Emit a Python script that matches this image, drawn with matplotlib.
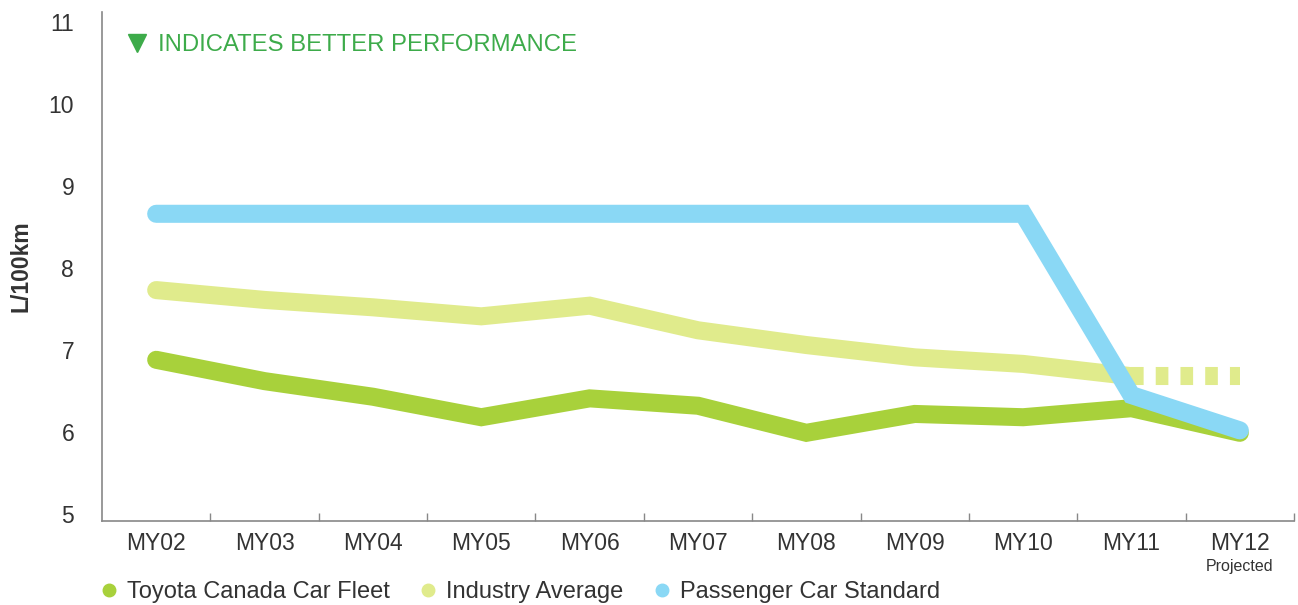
import numpy as np
import matplotlib.pyplot as plt
from matplotlib.lines import Line2D

plt.rcParams['font.family'] = ['Liberation Sans', 'DejaVu Sans']

years = ["MY02", "MY03", "MY04", "MY05", "MY06", "MY07", "MY08", "MY09", "MY10", "MY11", "MY12"]
toyota = [6.88, 6.62, 6.43, 6.18, 6.41, 6.32, 5.99, 6.22, 6.18, 6.29, 5.99]
industry = [7.73, 7.61, 7.52, 7.41, 7.54, 7.24, 7.06, 6.91, 6.83, 6.68]
industry_projected = [6.68, 6.68]
passenger = [8.66, 8.66, 8.66, 8.66, 8.66, 8.66, 8.66, 8.66, 8.66, 6.45, 6.02]

c_toyota = "#a8d13b"
c_industry = "#e0eb8c"
c_passenger = "#8ad8f5"
c_green = "#3dab4a"
c_text = "#333333"

x = np.arange(len(years))

fig = plt.figure(figsize=(12.98, 6.05), dpi=100)
ax = fig.add_axes([102/1298, 1 - 521/605, (1294 - 102)/1298, (521 - 12)/605])

lw = 13
ax.plot(x, toyota, color=c_toyota, lw=lw, solid_capstyle="round", solid_joinstyle="miter", zorder=3)
ax.plot(x[:len(industry)], industry, color=c_industry, lw=lw, solid_capstyle="round", solid_joinstyle="miter", zorder=2)
ax.plot(x[len(industry) - 1:], industry_projected, color=c_industry, lw=lw,
        linestyle=(0, (0.7, 0.67)), dash_capstyle="butt", zorder=2)
ax.plot(x, passenger, color=c_passenger, lw=lw, solid_capstyle="round", solid_joinstyle="miter", zorder=4)

ax.set_xlim(-0.5, 10.5)
ax.set_ylim(4.915, 11.12)

ax.set_xticks(x)
ax.set_xticklabels(years)
ax.set_xticks(np.arange(0.5, 10.6, 1), minor=True)
ax.tick_params(axis="x", which="major", length=0, pad=8, labelsize=16.5, labelcolor=c_text)
ax.tick_params(axis="x", which="minor", direction="in", length=6, width=1, color="#888888")
ax.set_yticks(range(5, 12))
ax.tick_params(axis="y", length=0, pad=20, labelsize=16.5, labelcolor=c_text)

for s in ["top", "right"]:
    ax.spines[s].set_visible(False)
for s in ["left", "bottom"]:
    ax.spines[s].set_color("#888888")
    ax.spines[s].set_linewidth(1.2)

ax.set_ylabel("L/100km", fontsize=16.5, fontweight="bold", color=c_text, labelpad=12)

ax.annotate("Projected", xy=(10, 0), xycoords=("data", "axes fraction"),
            xytext=(0, -27.5), textcoords="offset points", ha="center", va="top",
            fontsize=11.5, color=c_text)

ax.plot([0.029], [0.94], transform=ax.transAxes, marker="v", markersize=13,
        color=c_green, linestyle="None", clip_on=False)
ax.text(0.047, 0.935, "INDICATES BETTER PERFORMANCE", transform=ax.transAxes,
        color=c_green, fontsize=17.2, va="center", ha="left")

handles = [
    Line2D([], [], marker="o", linestyle="None", markersize=9, color=c_toyota),
    Line2D([], [], marker="o", linestyle="None", markersize=9, color=c_industry),
    Line2D([], [], marker="o", linestyle="None", markersize=9, color=c_passenger),
]
labels = ["Toyota Canada Car Fleet", "Industry Average", "Passenger Car Standard"]
fig.legend(handles, labels, loc="lower left", bbox_to_anchor=(0.062, -0.032), ncol=3,
           frameon=False, fontsize=17, handlelength=0.6, handletextpad=0.45,
           columnspacing=1.35, labelcolor=c_text)

fig.savefig("out.png", dpi=100)
